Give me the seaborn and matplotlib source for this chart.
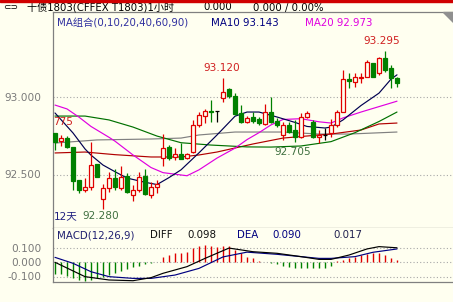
import matplotlib
matplotlib.use("Agg")
import matplotlib.pyplot as plt
import seaborn as sns
import numpy as np
from matplotlib.patches import Polygon, Rectangle

# ---------------- data ----------------
opens = [92.766, 92.716, 92.734, 92.675, 92.465, 92.400, 92.417, 92.566, 92.340, 92.411,
         92.479, 92.415, 92.490, 92.368, 92.400, 92.490, 92.368, 92.417, 92.605, 92.679,
         92.611, 92.632, 92.605, 92.647, 92.819, 92.879, 92.910, 92.910, 92.992, 93.050,
         93.006, 92.895, 92.841, 92.869, 92.856, 92.826, 92.905, 92.847, 92.755, 92.819,
         92.787, 92.744, 92.873, 92.841, 92.744, 92.755, 92.766, 92.819, 92.905, 93.116,
         93.099, 93.121, 93.131, 93.217, 93.153, 93.250, 93.185, 93.121]
closes = [92.708, 92.734, 92.675, 92.460, 92.400, 92.417, 92.561, 92.486, 92.411, 92.479,
          92.417, 92.486, 92.389, 92.400, 92.486, 92.374, 92.417, 92.439, 92.669, 92.605,
          92.632, 92.602, 92.632, 92.819, 92.884, 92.910, 92.901, 92.910, 93.034, 93.006,
          92.890, 92.841, 92.863, 92.845, 92.830, 92.905, 92.841, 92.819, 92.819, 92.776,
          92.744, 92.873, 92.895, 92.744, 92.755, 92.755, 92.819, 92.905, 93.114, 93.105,
          93.131, 93.131, 93.228, 93.131, 93.250, 93.174, 93.121, 93.088]
highs = [92.768, 92.755, 92.748, 92.679, 92.465, 92.477, 92.708, 92.568, 92.439, 92.518,
         92.534, 92.555, 92.508, 92.432, 92.518, 92.534, 92.454, 92.465, 92.761, 92.690,
         92.669, 92.701, 92.639, 92.852, 92.905, 92.921, 92.981, 92.910, 93.120, 93.056,
         93.024, 92.948, 92.877, 92.905, 92.873, 92.955, 92.998, 92.863, 92.841, 92.841,
         92.852, 92.895, 92.912, 92.852, 92.787, 92.798, 92.856, 92.916, 93.174, 93.153,
         93.153, 93.153, 93.239, 93.221, 93.260, 93.295, 93.206, 93.131]
lows = [92.658, 92.684, 92.669, 92.400, 92.383, 92.389, 92.400, 92.484, 92.280, 92.389,
        92.400, 92.400, 92.379, 92.331, 92.389, 92.368, 92.346, 92.379, 92.552, 92.594,
        92.594, 92.598, 92.600, 92.637, 92.808, 92.830, 92.841, 92.841, 92.970, 92.992,
        92.884, 92.834, 92.830, 92.830, 92.819, 92.819, 92.830, 92.808, 92.723, 92.766,
        92.712, 92.734, 92.863, 92.734, 92.705, 92.723, 92.744, 92.808, 92.905, 93.056,
        93.066, 93.088, 93.131, 93.131, 93.142, 93.163, 93.056, 93.066]

ma10_idx = [0, 3, 5, 6, 8, 10, 12, 15, 17, 19, 21, 24, 27, 30, 32, 34, 37, 40, 42, 45, 46, 48, 51, 54, 56, 57]
ma10_val = [92.897, 92.768, 92.665, 92.625, 92.561, 92.518, 92.477, 92.450, 92.435, 92.480, 92.530,
            92.640, 92.755, 92.876, 92.903, 92.903, 92.871, 92.836, 92.810, 92.800, 92.806,
            92.852, 92.945, 93.025, 93.115, 93.143]
ma20_idx = [0, 2, 4, 6, 9, 10, 13, 16, 18, 21, 22, 24, 27, 30, 32, 34, 36, 38, 41, 44, 46, 48, 51, 54, 57]
ma20_val = [92.948, 92.923, 92.870, 92.810, 92.740, 92.715, 92.626, 92.545, 92.512, 92.497, 92.492,
            92.530, 92.606, 92.670, 92.725, 92.770, 92.820, 92.855, 92.860, 92.840, 92.832,
            92.865, 92.903, 92.938, 92.973]
ma40_idx = [0, 5, 9, 13, 17, 21, 26, 32, 36, 41, 46, 50, 54, 57]
ma40_val = [92.877, 92.877, 92.852, 92.806, 92.748, 92.705, 92.690, 92.678, 92.677, 92.684,
            92.712, 92.770, 92.842, 92.903]
ma60_idx = [0, 5, 10, 16, 21, 24, 27, 30, 33, 38, 44, 46, 51, 54, 57]
ma60_val = [92.639, 92.645, 92.628, 92.613, 92.613, 92.626, 92.645, 92.671, 92.697, 92.735,
            92.755, 92.761, 92.787, 92.826, 92.832]
ma90_idx = [0, 7, 16, 21, 24, 30, 38, 44, 49, 57]
ma90_val = [92.703, 92.723, 92.729, 92.735, 92.755, 92.774, 92.774, 92.761, 92.761, 92.774]

macd_hist = [-0.082, -0.085, -0.098, -0.110, -0.122, -0.134, -0.124, -0.113, -0.101, -0.090,
             -0.078, -0.060, -0.048, -0.037, -0.025, -0.016, -0.004, -0.002, 0.037, 0.048,
             0.060, 0.060, 0.071, 0.094, 0.113, 0.117, 0.113, 0.106, 0.113, 0.113,
             0.083, 0.060, 0.037, 0.025, 0.009, 0.002, -0.005, -0.016, -0.025, -0.032,
             -0.039, -0.039, -0.039, -0.044, -0.044, -0.039, -0.025, 0.005, 0.014, 0.025,
             0.037, 0.048, 0.053, 0.060, 0.060, 0.048, 0.025, 0.017]
diff_idx = [0, 5, 9, 13, 16, 18, 22, 25, 29, 33, 37, 41, 44, 46, 49, 52, 54, 57]
diff_val = [-0.002, -0.101, -0.124, -0.129, -0.108, -0.078, -0.032, 0.025, 0.096, 0.071,
            0.060, 0.037, 0.018, 0.018, 0.048, 0.090, 0.106, 0.098]
dea_idx = [0, 3, 6, 9, 13, 16, 20, 24, 28, 32, 37, 41, 44, 46, 50, 53, 57]
dea_val = [0.032, -0.009, -0.067, -0.101, -0.113, -0.113, -0.090, -0.044, 0.035, 0.068,
           0.053, 0.037, 0.025, 0.025, 0.037, 0.067, 0.090]

price_ticks = [92.5, 93.0]
macd_ticks = [-0.1, 0.0, 0.1]

# ---------------- style ----------------
W, H = 453, 302
BG = "#FFFFF0"
RED = "#E00000"
GRN = "#008000"
SPINE = "#808080"
sns.set_theme(style="white", rc={"axes.facecolor": BG, "figure.facecolor": BG,
                                 "savefig.facecolor": BG})
plt.rcParams['font.family'] = ['DejaVu Sans', 'Noto Sans CJK SC']

fig = plt.figure(figsize=(W / 100, H / 100), dpi=100)


def fx(px):
    return px / W


def fy(py):
    return 1 - py / H


def price_at(py):
    return 93 - (py - 97) / 155.0


def macd_at(py):
    return (262 - py) / 145.0


ax = fig.add_axes([fx(53), fy(228), fx(453) - fx(53), fy(12) - fy(228)])
axm = fig.add_axes([fx(53), fy(282), fx(453) - fx(53), fy(228) - fy(282)])

for a in (ax, axm):
    a.set_facecolor(BG)
    a.set_xlim(-1 / 3, 398 / 6)
    a.set_xticks([])
    for s in a.spines.values():
        s.set_color(SPINE)
        s.set_linewidth(0.9)
    a.spines['right'].set_visible(False)
    a.tick_params(axis='y', left=False, labelsize=7.6, labelcolor="#7a7a7a", pad=2.5)

ax.set_ylim(price_at(228), price_at(12))
axm.set_ylim(macd_at(282), macd_at(228))
axm.spines['top'].set_visible(False)

ax.set_yticks(price_ticks)
ax.set_yticklabels([f"{v:.3f}" for v in price_ticks])
axm.set_yticks(macd_ticks)
axm.set_yticklabels([f"{v:.3f}" for v in macd_ticks])

for v in price_ticks:
    ax.axhline(v, color="#A8A8A8", lw=0.8, ls=(0, (1, 2)), zorder=1)
for v in macd_ticks:
    axm.axhline(v, color="#A8A8A8", lw=0.8, ls=(0, (1, 2)), zorder=1)

# ---------------- candles ----------------
for i, (o, h, l, c) in enumerate(zip(opens, highs, lows, closes)):
    if c > o:
        col = RED
    elif c < o:
        col = GRN
    else:
        col = "#000000"
    ax.vlines(i, l, h, color=col, lw=0.9, zorder=3)
    if c != o:
        ax.bar(i, abs(c - o), bottom=min(o, c), width=0.62,
               facecolor=BG if c > o else col, edgecolor=col, linewidth=0.9, zorder=4)
    else:
        ax.hlines(o, i - 0.33, i + 0.33, color=col, lw=0.9, zorder=4)

# ---------------- moving averages ----------------
for xs, ys, col in [(ma90_idx, ma90_val, "#808080"),
                    (ma60_idx, ma60_val, "#B00000"),
                    (ma40_idx, ma40_val, "#007000"),
                    (ma20_idx, ma20_val, "#E000E0"),
                    (ma10_idx, ma10_val, "#000050")]:
    sns.lineplot(x=xs, y=ys, ax=ax, color=col, lw=0.85, zorder=2)

# ---------------- MACD ----------------
idx = np.arange(len(macd_hist))
hcols = [RED if v > 0 else GRN for v in macd_hist]
axm.vlines(idx, 0, macd_hist, colors=hcols, lw=1.0, zorder=2)
sns.lineplot(x=dea_idx, y=dea_val, ax=axm, color="#000080", lw=0.85, zorder=3)
sns.lineplot(x=diff_idx, y=diff_val, ax=axm, color="#000000", lw=0.85, zorder=3)

# ---------------- decorations ----------------
fig.patches.append(Rectangle((0, fy(2)), 1, 2 / H, transform=fig.transFigure,
                             color="#D00000", zorder=5))
fig.patches.append(Polygon([[fx(443), fy(12)], [fx(453), fy(12)], [fx(453), fy(22)]],
                           closed=True, transform=fig.transFigure, color="#909090"))

def t(px, py, s, color="#000000", size=7.6, ha="left", **kw):
    fig.text(fx(px), fy(py), s, color=color, fontsize=size, ha=ha, va="center", **kw)

t(3, 7.5, "⊂⊃", size=6.5)
t(27, 7.5, "十债1803(CFFEX T1803)1小时", size=7.3)
t(203, 7.5, "0.000", size=7.3)
t(253, 7.5, "0.000 / 0.00%", size=7.3)

t(57, 23, "MA组合(0,10,20,40,60,90)", color="#3030A0", size=7.4)
t(211, 23, "MA10 93.143", color="#000080", size=7.4)
t(305, 23, "MA20 92.973", color="#E000E0", size=7.4)

t(222, 68, "93.120", color="#D02020", size=7.6, ha="center")
t(382, 41, "93.295", color="#D02020", size=7.6, ha="center")
t(293, 152, "92.705", color="#407040", size=7.6, ha="center")
t(53, 122, "775", color="#D02020", size=7.6)
t(54, 216, "12天", color="#202080", size=7.6)
t(82, 216, "92.280", color="#407040", size=7.6)

t(57, 235, "MACD(12,26,9)", color="#202070", size=7.4)
t(150, 235, "DIFF", color="#101010", size=7.4)
t(187, 235, "0.098", color="#101010", size=7.4)
t(237, 235, "DEA", color="#000080", size=7.4)
t(272, 235, "0.090", color="#000080", size=7.4)
t(333, 235, "0.017", color="#202050", size=7.4)

fig.savefig("out.png", dpi=100)
